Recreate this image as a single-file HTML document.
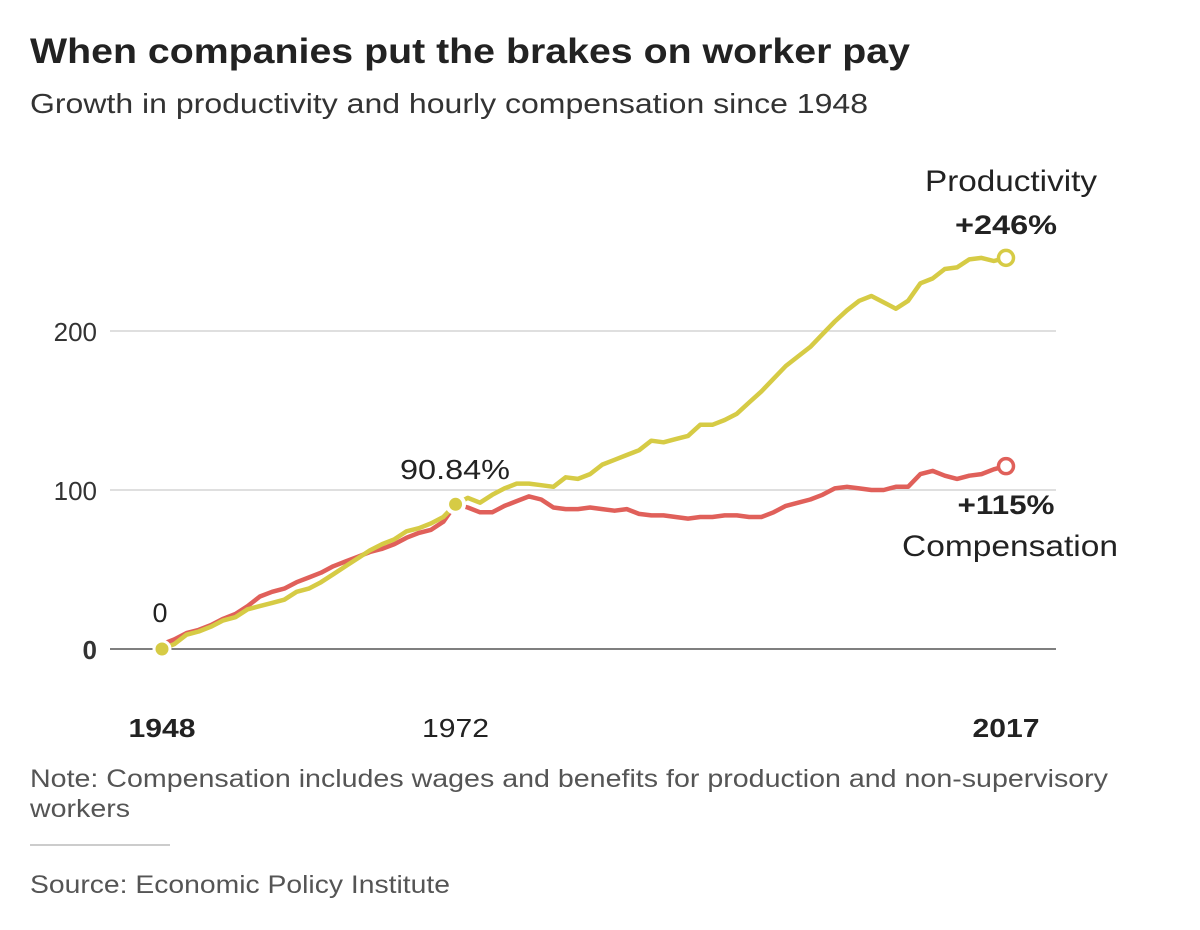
<!DOCTYPE html>
<html><head><meta charset="utf-8"><style>
body{margin:0;background:#fff;width:1200px;height:925px;overflow:hidden;font-family:"Liberation Sans",sans-serif;color:#222}
</style></head><body>
<svg width="1200" height="925" font-family="Liberation Sans, sans-serif">
<text x="30" y="63" font-size="35" font-weight="bold" fill="#222" textLength="880" lengthAdjust="spacingAndGlyphs">When companies put the brakes on worker pay</text>
<text x="30" y="113" font-size="28" fill="#333" textLength="838" lengthAdjust="spacingAndGlyphs">Growth in productivity and hourly compensation since 1948</text>
<g id="grid"></g>
<g id="lines"></g>
<g id="annot"></g>
<text x="30" y="787" font-size="25" fill="#555" textLength="1078" lengthAdjust="spacingAndGlyphs">Note: Compensation includes wages and benefits for production and non-supervisory</text>
<text x="30" y="817" font-size="25" fill="#555" textLength="100" lengthAdjust="spacingAndGlyphs">workers</text>
<line x1="30" y1="845" x2="170" y2="845" stroke="#ccc" stroke-width="2"/>
<text x="30" y="893" font-size="25" fill="#555" textLength="420" lengthAdjust="spacingAndGlyphs">Source: Economic Policy Institute</text>
</svg>
<script>
const years=[];for(let y=1948;y<=2017;y++)years.push(y);
const productivity=[0,3,9,11,14,18,20,25,27,29,31,36,38,42,47,52,57,62,66,69,74,76,79,83,91,95,92,97,101,104,104,103,102,108,107,110,116,119,122,125,131,130,132,134,141,141,144,148,155,162,170,178,184,190,198,206,213,219,222,218,214,219,230,233,239,240,245,246,244,246];
const compensation=[3,6,10,12,15,19,22,27,33,36,38,42,45,48,52,55,58,61,63,66,70,73,75,80,91,89,86,86,90,93,96,94,89,88,88,89,88,87,88,85,84,84,83,82,83,83,84,84,83,83,86,90,92,94,97,101,102,101,100,100,102,102,110,112,109,107,109,110,113,115];
const yTicks=[0,100,200];
const yTickLabels=["0","100","200"];
const xTicks=[1948,1972,2017];
const NS="http://www.w3.org/2000/svg";
const X=y=>162+(y-1948)*(1006-162)/69;
const Y=v=>649-v*1.59;
function mk(t,a,p){const e=document.createElementNS(NS,t);for(const k in a)e.setAttribute(k,a[k]);p.appendChild(e);return e;}
const grid=document.getElementById('grid');
yTicks.forEach((t,i)=>{
 const l=mk('line',{x1:110,x2:1056,y1:Y(t),y2:Y(t),stroke:t===0?'#555':'#ccc','stroke-width':t===0?1.5:1.2},grid);
 
 
 const tx=mk('text',{x:97,y:Y(t)+10,'font-size':26,'text-anchor':'end',fill:'#333','font-weight':t===0?'bold':'normal'},grid);
 tx.textContent=yTickLabels[i];
 
 
});
xTicks.forEach(t=>{
 const tx=mk('text',{x:X(t),y:737,'font-size':26,'text-anchor':'middle',fill:'#222','font-weight':t===1972?'normal':'bold',textLength:67,lengthAdjust:'spacingAndGlyphs'},grid);
 tx.textContent=t;
 
 
});
const lines=document.getElementById('lines');
function path(vals){return vals.map((v,i)=>(i?'L':'M')+X(years[i]).toFixed(1)+','+Y(v).toFixed(1)).join('');}
const cp=mk('path',{d:path(compensation),fill:'none',stroke:'#e0605a','stroke-width':4.5,'stroke-linejoin':'round'},lines);


const pp=mk('path',{d:path(productivity),fill:'none',stroke:'#d6cb45','stroke-width':4.5,'stroke-linejoin':'round'},lines);


const i72=1972-1948;
const d0=mk('circle',{cx:X(1948),cy:Y(productivity[0]),r:8,fill:'#d6cb45',stroke:'#fff','stroke-width':3},lines);


const d1=mk('circle',{cx:X(1972),cy:Y(productivity[i72]),r:8.5,fill:'#d6cb45',stroke:'#fff','stroke-width':4},lines);


const n=years.length-1;
const ep=mk('circle',{cx:X(2017),cy:Y(productivity[n]),r:7.5,fill:'#fff',stroke:'#d6cb45','stroke-width':3.5},lines);


const ec=mk('circle',{cx:X(2017),cy:Y(compensation[n]),r:7.5,fill:'#fff',stroke:'#e0605a','stroke-width':3.5},lines);


const an=document.getElementById('annot');
function txt(s,x,y,sz,w,len,name){const t=mk('text',{x:x,y:y,'font-size':sz,'font-weight':w,'text-anchor':'middle',fill:'#222',textLength:len,lengthAdjust:'spacingAndGlyphs'},an);t.textContent=s;

}
txt('Productivity',1011,191,30,'normal',172,'productivity-label');
txt('+'+productivity[n]+'%',1006,234,27,'bold',102,'productivity-value');
txt('+'+compensation[n]+'%',1006,514,27,'bold',97,'compensation-value');
txt('Compensation',1010,556,30,'normal',216,'compensation-label');
txt('0',160,622,27,'normal',15,'start-value-label');
txt('90.84%',455,479,28,'normal',110,'value-1972-label');
</script>
</body></html>
